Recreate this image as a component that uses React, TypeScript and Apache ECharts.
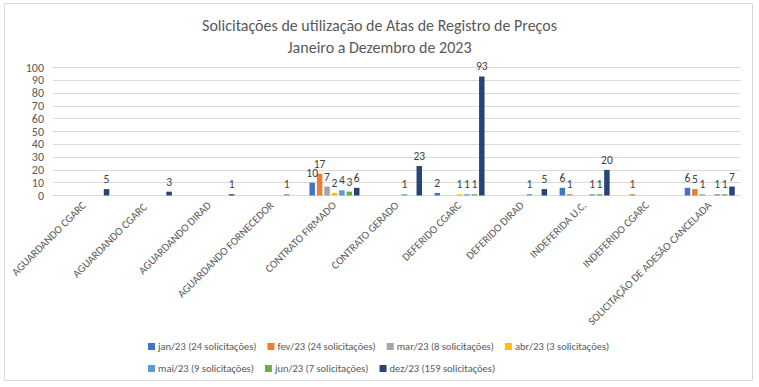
import React, { useEffect, useRef } from "react";
import * as echarts from "echarts";

const categories = [
  "AGUARDANDO CGARC",
  "AGUARDANDO CGARC ",
  "AGUARDANDO DIRAD",
  "AGUARDANDO FORNECEDOR",
  "CONTRATO FIRMADO",
  "CONTRATO GERADO",
  "DEFERIDO CGARC",
  "DEFERIDO DIRAD",
  "INDEFERIDA U.C.",
  "INDEFERIDO CGARC",
  "SOLICITAÇÃO DE ADESÃO CANCELADA",
];

const seriesNames = [
  "jan/23 (24 solicitações)",
  "fev/23 (24 solicitações)",
  "mar/23 (8 solicitações)",
  "abr/23 (3 solicitações)",
  "mai/23 (9 solicitações)",
  "jun/23 (7 solicitações)",
  "dez/23 (159 solicitações)",
];

const seriesColors = ["#4472C4", "#ED7D31", "#A5A5A5", "#FFC000", "#5B9BD5", "#70AD47", "#264478"];

const janValues = [null, null, null, null, 10, null, 2, null, 6, null, 6];
const fevValues = [null, null, null, null, 17, null, null, null, 1, 1, 5];
const marValues = [null, null, null, null, 7, null, null, null, null, null, 1];
const abrValues = [null, null, null, null, 2, null, 1, null, null, null, null];
const maiValues = [null, null, null, null, 4, 1, 1, 1, 1, null, 1];
const junValues = [null, null, null, 1, 3, null, 1, null, 1, null, 1];
const dezValues = [5, 3, 1, null, 6, 23, 93, 5, 20, null, 7];

const allValues = [janValues, fevValues, marValues, abrValues, maiValues, junValues, dezValues];

const yTicks = { min: 0, max: 100, interval: 10 };

const FONT = "Carlito, Lato, 'Noto Sans', sans-serif";

export default function App() {
  const ref = useRef<HTMLDivElement>(null);
  useEffect(() => {
    if (!ref.current) return;
    const chart = echarts.init(ref.current, undefined, { renderer: "svg" });
    const series = seriesNames.map((name, i) => ({
      name,
      type: "bar",
      data: allValues[i],
      itemStyle: { color: seriesColors[i] },
      barGap: "35%",
      barCategoryGap: "20%",
      labelLayout: { hideOverlap: false },
      label: {
        show: true,
        position: "top",
        distance: 4,
        color: "#404040",
        fontSize: 11.5,
        fontFamily: FONT,
      },
    }));
    chart.setOption({
      animation: false,
      backgroundColor: "#ffffff",
      textStyle: { fontFamily: FONT },
      title: {
        text: "Solicitações de utilização de Atas de Registro de Preços\nJaneiro a Dezembro de 2023",
        left: "center",
        top: 9,
        textStyle: {
          fontSize: 16,
          lineHeight: 22,
          fontWeight: "normal",
          color: "#595959",
          fontFamily: FONT,
        },
      },
      graphic: [
        {
          type: "rect",
          shape: { x: 4.5, y: 3.5, width: 748, height: 377 },
          style: { fill: "none", stroke: "#d9d9d9", lineWidth: 1 },
          silent: true,
        },
      ],
      legend: {
        data: [seriesNames[0], seriesNames[1], seriesNames[2], seriesNames[3], "", seriesNames[4], seriesNames[5], seriesNames[6]],
        left: 143,
        top: 336,
        itemWidth: 7,
        itemHeight: 7,
        itemGap: 11,
        icon: "rect",
        textStyle: { fontSize: 10.5, color: "#595959", fontFamily: FONT, padding: [0, 0, 0, -2] },
      },
      grid: { left: 53, right: 18, top: 67.5, bottom: 191.5, containLabel: false },
      xAxis: {
        type: "category",
        data: categories,
        axisLine: { show: true, lineStyle: { color: "#d9d9d9" } },
        axisTick: { show: false },
        axisLabel: {
          interval: 0,
          rotate: 45,
          color: "#595959",
          fontSize: 11,
          fontFamily: FONT,
          margin: 8,
        },
      },
      yAxis: {
        type: "value",
        min: yTicks.min,
        max: yTicks.max,
        interval: yTicks.interval,
        axisLine: { show: false },
        axisTick: { show: false },
        splitLine: { lineStyle: { color: "#d9d9d9" } },
        axisLabel: { color: "#595959", fontSize: 12, fontFamily: FONT, margin: 9 },
      },
      series,
    });
    return () => chart.dispose();
  }, []);
  return (
    <div style={{ position: "fixed", left: 0, top: 0, width: 759, height: 387, background: "#fff" }}>
      <div ref={ref} style={{ width: 759, height: 387 }} />
    </div>
  );
}
